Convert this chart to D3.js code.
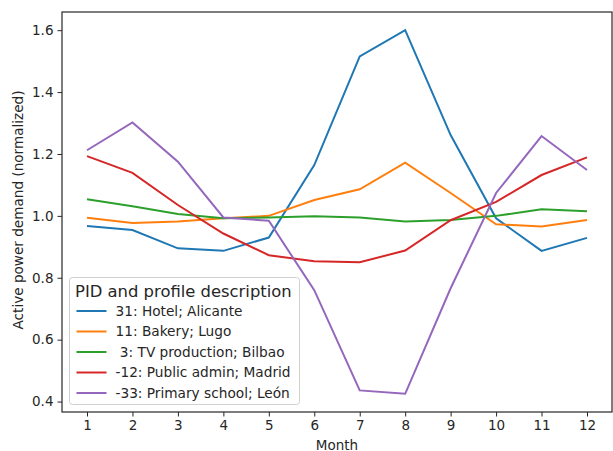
<!DOCTYPE html>
<html>
<head>
<meta charset="utf-8">
<script src="https://cdn.jsdelivr.net/npm/d3@7"></script>
<style>
  body { margin: 0; background: #fff; }
  text { font-family: "DejaVu Sans", sans-serif; fill: #262626; }
</style>
</head>
<body>
<div id="chart"></div>
<script>
// data
const months = [1, 2, 3, 4, 5, 6, 7, 8, 9, 10, 11, 12];
const hotel = [0.967, 0.954, 0.895, 0.887, 0.930, 1.164, 1.515, 1.600, 1.261, 0.992, 0.887, 0.929];
const bakery = [0.994, 0.977, 0.982, 0.992, 1.000, 1.051, 1.086, 1.172, 1.074, 0.973, 0.966, 0.987];
const tvProduction = [1.054, 1.031, 1.006, 0.992, 0.995, 0.999, 0.995, 0.982, 0.987, 1.000, 1.021, 1.015];
const publicAdmin = [1.193, 1.139, 1.035, 0.943, 0.873, 0.853, 0.850, 0.888, 0.986, 1.045, 1.132, 1.189];
const primarySchool = [1.212, 1.302, 1.175, 0.995, 0.984, 0.760, 0.436, 0.425, 0.766, 1.074, 1.258, 1.148];
const seriesLabels = ['31: Hotel; Alicante', '11: Bakery; Lugo', ' 3: TV production; Bilbao', '-12: Public admin; Madrid', '-33: Primary school; León'];
const seriesColors = ['#1f77b4', '#ff7f0e', '#2ca02c', '#d62728', '#9467bd'];
const yTicks = [0.4, 0.6, 0.8, 1.0, 1.2, 1.4, 1.6];

const series = [hotel, bakery, tvProduction, publicAdmin, primarySchool].map((vals, i) => ({
  label: seriesLabels[i],
  color: seriesColors[i],
  values: vals.map((v, j) => ({ month: months[j], value: v }))
}));

const W = 613, H = 451;
const margin = { top: 12, right: 1, bottom: 39, left: 62 };
const width = W - margin.left - margin.right;
const height = H - margin.top - margin.bottom;

const svg = d3.select('#chart').append('svg')
  .attr('width', W)
  .attr('height', H);

const g = svg.append('g')
  .attr('transform', 'translate(' + margin.left + ',' + margin.top + ')');

// matplotlib-style 5% margins
const xExt = d3.extent(months);
const xPad = (xExt[1] - xExt[0]) * 0.05;
const allVals = series.flatMap(s => s.values.map(d => d.value));
const yExt = d3.extent(allVals);
const yPad = (yExt[1] - yExt[0]) * 0.05;

const x = d3.scaleLinear()
  .domain([xExt[0] - xPad, xExt[1] + xPad])
  .range([0, width]);

const y = d3.scaleLinear()
  .domain([yExt[0] - yPad, yExt[1] + yPad])
  .range([height, 0]);

const line = d3.line()
  .x(d => x(d.month))
  .y(d => y(d.value));

g.append('g')
  .selectAll('path')
  .data(series)
  .enter().append('path')
    .attr('fill', 'none')
    .attr('stroke', d => d.color)
    .attr('stroke-width', 2)
    .attr('stroke-linejoin', 'miter')
    .attr('d', d => line(d.values));

// axes
const xAxis = g.append('g')
  .attr('transform', 'translate(0,' + height + ')')
  .call(d3.axisBottom(x).tickValues(months).tickSize(4.5).tickPadding(4).tickFormat(d3.format('d')));

const yAxis = g.append('g')
  .call(d3.axisLeft(y).tickValues(yTicks).tickSize(4.5).tickPadding(4).tickFormat(d3.format('.1f')));

[xAxis, yAxis].forEach(a => {
  a.select('.domain').remove();
  a.selectAll('line').attr('stroke', '#262626').attr('stroke-width', 1);
  a.selectAll('text').attr('font-size', 13.5).attr('fill', '#262626')
    .style('font-family', '"DejaVu Sans", sans-serif');
});

// frame
g.append('rect')
  .attr('width', width)
  .attr('height', height)
  .attr('fill', 'none')
  .attr('stroke', '#262626')
  .attr('stroke-width', 1.2);

// axis labels
svg.append('text')
  .attr('x', margin.left + x(6.5))
  .attr('y', 449.5)
  .attr('text-anchor', 'middle')
  .attr('font-size', 13.5)
  .text('Month');

svg.append('text')
  .attr('transform', 'translate(23,' + (margin.top + height / 2 - 2) + ') rotate(-90)')
  .attr('text-anchor', 'middle')
  .attr('font-size', 13.6)
  .text('Active power demand (normalized)');

// legend
const lg = svg.append('g').attr('transform', 'translate(69.5,277.5)');
lg.append('rect')
  .attr('width', 230)
  .attr('height', 127)
  .attr('rx', 3)
  .attr('fill', 'rgba(255,255,255,0.85)')
  .attr('stroke', '#d0d0d0')
  .attr('stroke-width', 1);

lg.append('text')
  .attr('x', 5.5)
  .attr('y', 19)
  .attr('font-size', 16.4)
  .text('PID and profile description');

const item = lg.selectAll('.item')
  .data(series)
  .enter().append('g')
    .attr('class', 'item')
    .attr('transform', (d, i) => 'translate(0,' + (33.5 + i * 20.5) + ')');

item.append('line')
  .attr('x1', 7).attr('x2', 37)
  .attr('stroke', d => d.color)
  .attr('stroke-width', 2);

item.append('text')
  .attr('x', 46)
  .attr('dy', '0.35em')
  .attr('font-size', 13.7)
  .style('white-space', 'pre')
  .text(d => d.label);
</script>
</body>
</html>
